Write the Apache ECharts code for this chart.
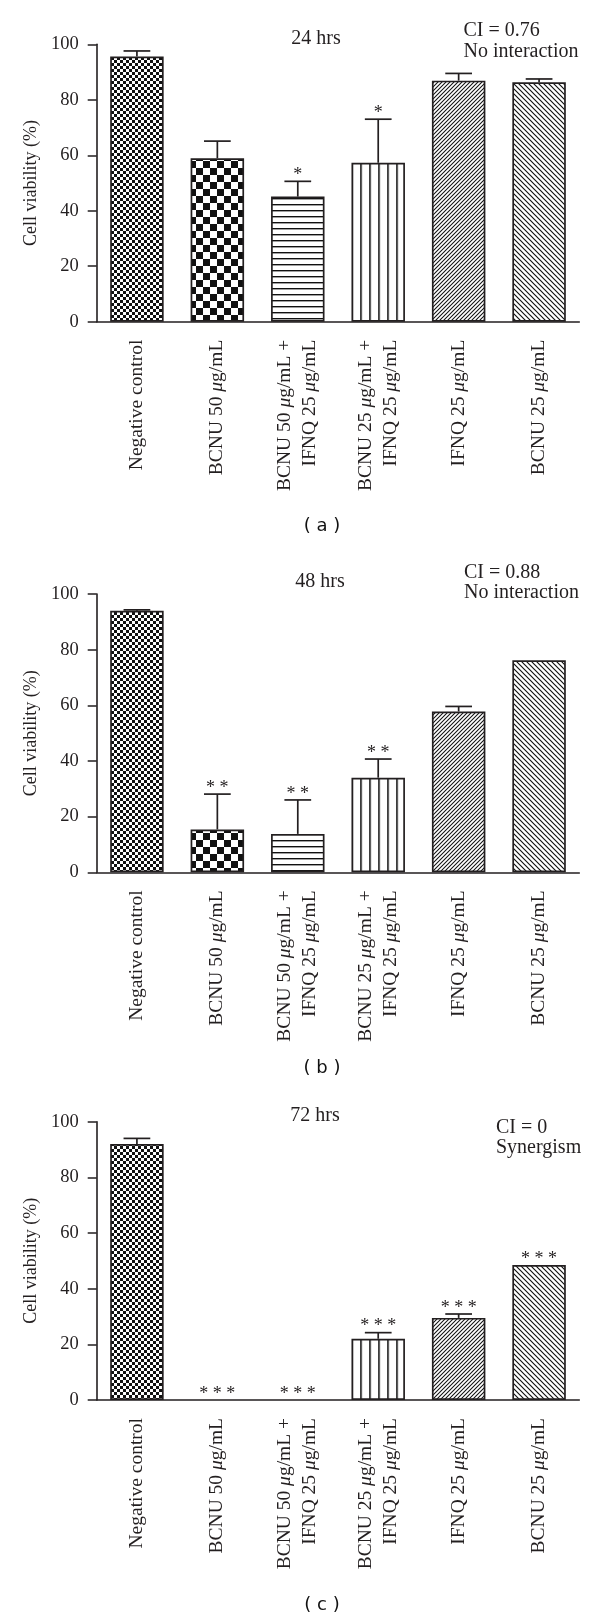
<!DOCTYPE html>
<html>
<head>
<meta charset="utf-8">
<script src="https://cdn.jsdelivr.net/npm/echarts@6/dist/echarts.min.js"></script>
<style>
html,body{margin:0;padding:0;background:#fff;}
#c{width:600px;height:1618px;}
</style>
</head>
<body>
<div id="c"></div>
<script>
// ---------- data ----------
const categories = [
  'Negative control',
  'BCNU 50 μg/mL',
  'BCNU 50 μg/mL +\nIFNQ 25 μg/mL',
  'BCNU 25 μg/mL +\nIFNQ 25 μg/mL',
  'IFNQ 25 μg/mL',
  'BCNU 25 μg/mL'
];
const yTicks = [0, 20, 40, 60, 80, 100];

const mean24 = [95.6, 58.9, 45.1, 57.3, 86.9, 86.3];
const err24  = [2.0, 6.2, 5.5, 15.7, 2.6, 1.2];
const star24 = ['', '', '*', '*', '', ''];

const mean48 = [94.0, 15.4, 13.8, 34.0, 57.8, 76.2];
const err48  = [0.3, 12.7, 12.2, 6.7, 1.8, 0];
const star48 = ['', '* *', '* *', '* *', '', ''];

const mean72 = [92.0, 0, 0, 22.0, 29.5, 48.5];
const err72  = [2.0, 0, 0, 2.2, 1.4, 0];
const star72 = ['', '* * *', '* * *', '* * *', '* * *', '* * *'];

const panelTitles = ['24 hrs', '48 hrs', '72 hrs'];
const ciLines = [['CI = 0.76', 'No interaction'], ['CI = 0.88', 'No interaction'], ['CI = 0', 'Synergism']];
const panelLabels = ['( a )', '( b )', '( c )'];

// ---------- styles ----------
const INK = '#231f20';
const SERIF = '"Liberation Serif","Times New Roman",serif';
const GRID_LEFT = 96.7, GRID_RIGHT = 20.7;
const gridTops = [44.3, 594, 1121.7];
const gridHeights = [277.4, 278.3, 278.3];
const BAR_FRAC = 0.665;

function pat(w, h, draw, extra) {
  const c = document.createElement('canvas');
  c.width = w; c.height = h;
  const g = c.getContext('2d');
  g.fillStyle = '#fff'; g.fillRect(0, 0, w, h);
  g.fillStyle = '#111'; g.strokeStyle = '#111';
  draw(g);
  return Object.assign({ image: c, repeat: 'repeat' }, extra || {});
}
const band = (600 - GRID_LEFT - GRID_RIGHT) / 6;
const bar4Left = GRID_LEFT + 3 * band + band * (1 - BAR_FRAC) / 2;

const patterns = [
  pat(6, 6, g => { g.fillRect(0, 0, 3, 3); g.fillRect(3, 3, 3, 3); }),
  pat(14, 14, g => { g.fillRect(0, 0, 7, 7); g.fillRect(7, 7, 7, 7); }),
  pat(4, 6, g => { g.fillRect(0, 0, 4, 1.4); }),
  pat(9, 4, g => { g.fillRect(0, 0, 1.6, 4); }, { x: bar4Left - 0.3 }),
  pat(4, 4, g => {
    g.lineWidth = 1.05; g.beginPath();
    g.moveTo(0, 4); g.lineTo(4, 0);
    g.moveTo(-1, 1); g.lineTo(1, -1);
    g.moveTo(3, 5); g.lineTo(5, 3);
    g.stroke();
  }),
  pat(5, 5, g => {
    g.lineWidth = 1.15; g.beginPath();
    g.moveTo(0, 0); g.lineTo(5, 5);
    g.moveTo(-1, 4); g.lineTo(1, 6);
    g.moveTo(4, -1); g.lineTo(6, 1);
    g.stroke();
  })
];

const labelRich = {
  i: { fontStyle: 'italic', fontFamily: SERIF, fontSize: 19.5, color: INK, lineHeight: 25 }
};
function fmtCat(v) {
  return v.replace(/μ/g, '{i|μ}');
}

const panels = [
  { mean: mean24, err: err24, star: star24 },
  { mean: mean48, err: err48, star: star48 },
  { mean: mean72, err: err72, star: star72 }
];

const grid = [], xAxis = [], yAxis = [], series = [], graphic = [];

panels.forEach((p, k) => {
  grid.push({ left: GRID_LEFT, right: GRID_RIGHT, top: gridTops[k], height: gridHeights[k] });
  xAxis.push({
    type: 'category', gridIndex: k, data: categories,
    axisLine: { lineStyle: { color: INK, width: 1.6 } },
    axisTick: { alignWithLabel: true, length: 9, lineStyle: { color: INK, width: 1.5 } },
    axisLabel: {
      rotate: 90, margin: 18, interval: 0,
      fontFamily: SERIF, fontSize: 19.5, color: INK, lineHeight: 25,
      formatter: fmtCat, rich: labelRich
    },
    splitLine: { show: false }
  });
  yAxis.push({
    type: 'value', gridIndex: k, min: 0, max: 100, interval: 20,
    name: 'Cell viability (%)', nameLocation: 'middle', nameGap: 54, nameRotate: 90,
    nameTextStyle: { fontFamily: SERIF, fontSize: 18, color: INK },
    axisLine: { show: true, lineStyle: { color: INK, width: 1.6 } },
    axisTick: { show: true, length: 9, lineStyle: { color: INK, width: 1.5 } },
    axisLabel: {
      margin: 18, fontFamily: SERIF, fontSize: 18.5, color: INK,
      formatter: v => (yTicks.indexOf(v) >= 0 ? String(v) : '')
    },
    splitLine: { show: false }
  });
  series.push({
    type: 'bar', xAxisIndex: k, yAxisIndex: k, barWidth: (BAR_FRAC * 100) + '%',
    data: p.mean.map((v, i) => ({
      value: v,
      itemStyle: { color: patterns[i], borderColor: INK, borderWidth: v > 0 ? 1.7 : 0 }
    })),
    silent: true, animation: false
  });
  series.push({
    type: 'custom', xAxisIndex: k, yAxisIndex: k, z: 5, animation: false, silent: true,
    data: p.mean.map((v, i) => [i, v, p.err[i]]),
    renderItem: (params, api) => {
      const i = params.dataIndex;
      const m = api.value(1), e = api.value(2);
      const base = api.coord([i, m]);
      const hi = api.coord([i, m + e]);
      const half = api.size([1, 0])[0] * BAR_FRAC / 4;
      const children = [];
      if (e > 0) {
        children.push({ type: 'line', shape: { x1: base[0], y1: base[1], x2: hi[0], y2: hi[1] },
          style: { stroke: INK, lineWidth: 1.7 } });
        children.push({ type: 'line', shape: { x1: hi[0] - half, y1: hi[1], x2: hi[0] + half, y2: hi[1] },
          style: { stroke: INK, lineWidth: 1.7 } });
      }
      const s = p.star[i];
      if (s) {
        children.push({ type: 'text', x: hi[0], y: hi[1] - 6,
          style: { text: s, fill: INK, font: '18px ' + SERIF, align: 'center', verticalAlign: 'middle' } });
      }
      return { type: 'group', children };
    }
  });
});

// annotations
const titlePos = [[316, 39], [320, 581.5], [315, 1116]];
const ciPos = [[463.5, 30.8, 52], [464, 572.5, 592.5], [496, 1128, 1148]];
const panelLabelY = [526, 1068, 1605];
for (let k = 0; k < 3; k++) {
  graphic.push({ type: 'text', x: titlePos[k][0], y: titlePos[k][1],
    style: { text: panelTitles[k], fill: INK, font: '20px ' + SERIF, align: 'center', verticalAlign: 'middle' } });
  graphic.push({ type: 'text', x: ciPos[k][0], y: ciPos[k][1],
    style: { text: ciLines[k][0], fill: INK, font: '20px ' + SERIF, align: 'left', verticalAlign: 'middle' } });
  graphic.push({ type: 'text', x: ciPos[k][0], y: ciPos[k][2],
    style: { text: ciLines[k][1], fill: INK, font: '20px ' + SERIF, align: 'left', verticalAlign: 'middle' } });
  graphic.push({ type: 'text', x: 322, y: panelLabelY[k],
    style: { text: panelLabels[k], fill: '#111', font: '18px "DejaVu Sans",sans-serif', align: 'center', verticalAlign: 'middle' } });
}

const chart = echarts.init(document.getElementById('c'), null, { renderer: 'canvas', width: 600, height: 1618 });
chart.setOption({
  animation: false,
  backgroundColor: '#fff',
  grid, xAxis, yAxis, series, graphic
});
</script>
</body>
</html>
